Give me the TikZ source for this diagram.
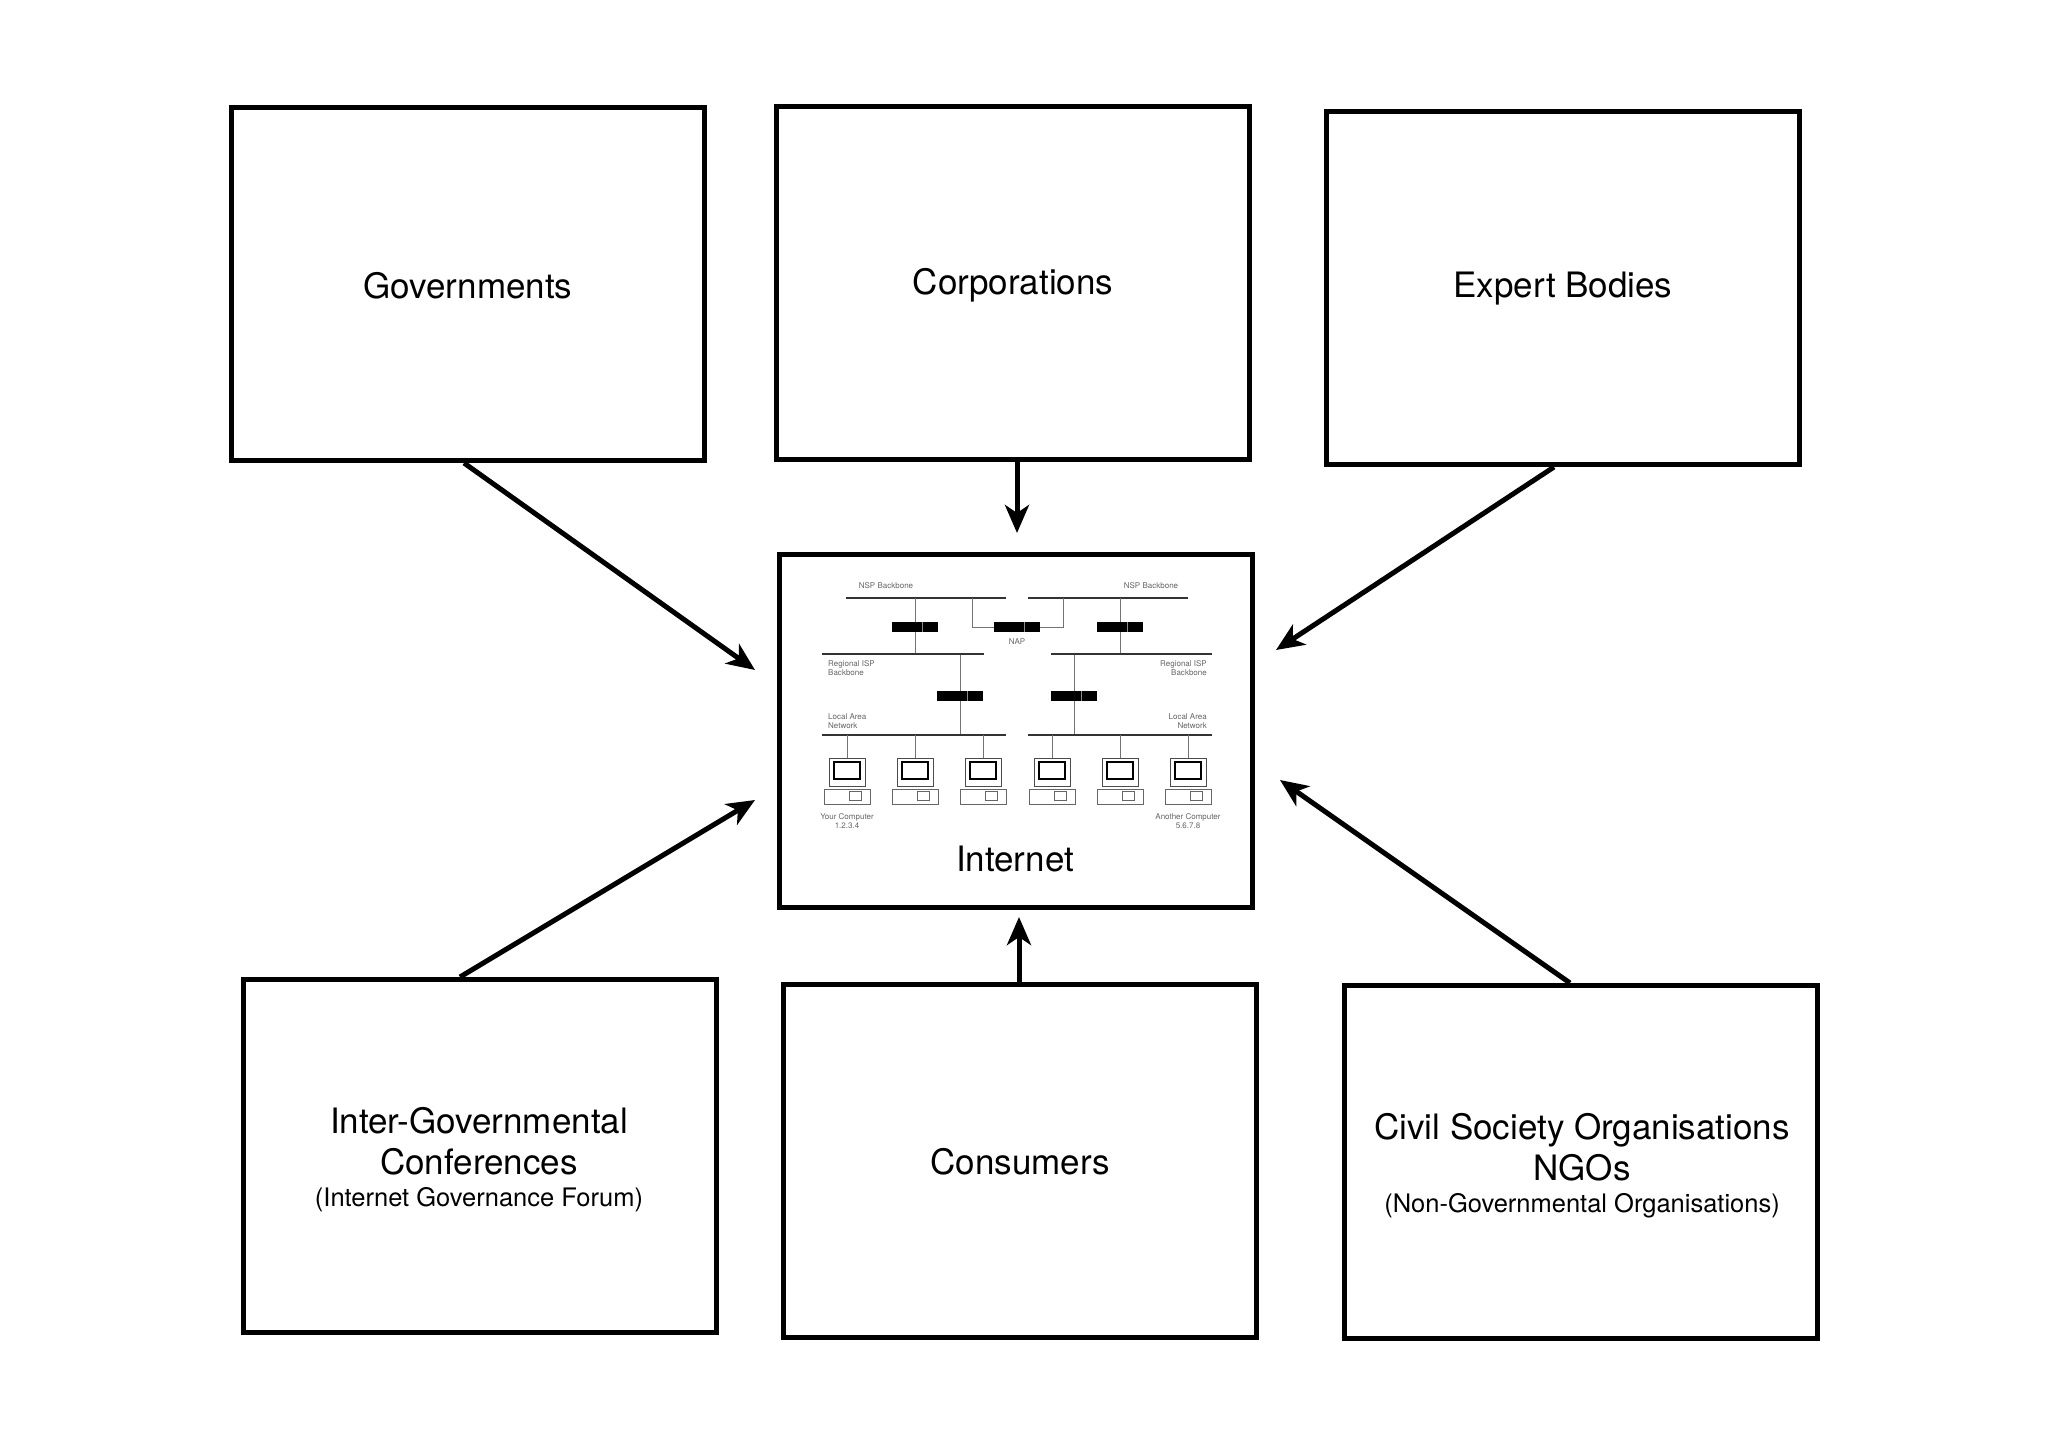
\documentclass[tikz,border=0pt]{standalone}
\usepackage{fontspec}
\setmainfont{TeX Gyre Heros}
\usetikzlibrary{arrows.meta}
\begin{document}
\begin{tikzpicture}[x=1pt,y=-1pt,
  box/.style={draw,line width=5pt,minimum width=473pt,minimum height=353pt,inner sep=0pt,anchor=north west},
  lbl/.style={font=\fontsize{35}{41}\selectfont,align=center},
  conn/.style={line width=5pt,-{Stealth[length=28pt,width=24pt,inset=8pt]}},
  net/.style={line width=1.6pt,black!80},
  thin/.style={line width=1pt,black!55},
  tiny/.style={font=\fontsize{8}{9}\selectfont,text=black!60,inner sep=0pt}]
\useasboundingbox (0,0) rectangle (2048,1448);
\fill[white] (0,0) rectangle (2048,1448);
\node[box] (gov) at (229,105) {};
\node[box] (corp) at (774,104) {};
\node[box] (exp) at (1324,109) {};
\node[box] (inet) at (777,552) {};
\node[box] (igc) at (241,977) {};
\node[box] (cons) at (781,982) {};
\node[box] (civ) at (1342,983) {};
\node[lbl] at (468,286) {Governments};
\node[lbl] at (1013,285) {Corporations};
\node[lbl] at (1563,289) {Expert Bodies};
\node[lbl] (il) at (1015,859) {Internet};
\node[lbl] at (1020,1162) {Consumers};
\node[lbl,anchor=north] at (479,1104) {Inter-Governmental\\Conferences\\[-9pt]{\fontsize{25.5}{29}\selectfont(Internet Governance Forum)}};
\node[lbl,anchor=north] at (1582,1110) {Civil Society Organisations\\NGOs\\[-9pt]{\fontsize{25.5}{29}\selectfont(Non-Governmental Organisations)}};
% connector ends
\coordinate (e1) at (755,670);
\coordinate (e2) at (1017,533);
\coordinate (e3) at (1276,650);
\coordinate (e4) at (755,800);
\coordinate (e5) at (1019,917);
\coordinate (e6) at (1280,780);
\draw[conn] (gov.south -| 464,0) -- (e1);
\draw[conn] (corp.south -| 1017,0) -- (e2);
\draw[conn] (exp.south -| 1554,0) -- (e3);
\draw[conn] (igc.north -| 460,0) -- (e4);
\draw[conn] (cons.north -| 1019,0) -- (e5);
\draw[conn] (civ.north -| 1570,0) -- (e6);
% network
\node[tiny] at (886,586) {NSP Backbone};
\node[tiny] at (1151,586) {NSP Backbone};
\draw[net] (846,598) -- (1006,598);
\draw[net] (1028,598) -- (1188,598);
\draw[thin] (915,598) -- (915,654);
\draw[thin] (1120,598) -- (1120,654);
\draw[thin] (972,598) -- (972,627) -- (1063,627) -- (1063,598);
\draw[thin] (960,654) -- (960,735);
\draw[thin] (1074,654) -- (1074,735);
\node[tiny] at (1017,642) {NAP};
\draw[net] (822,654) -- (984,654);
\draw[net] (1051,654) -- (1212,654);
\node[tiny,align=left,anchor=north west] at (828,660) {Regional ISP\\Backbone};
\node[tiny,align=right,anchor=north east] at (1207,660) {Regional ISP\\Backbone};
\draw[net] (822,735) -- (1006,735);
\draw[net] (1028,735) -- (1212,735);
\node[tiny,align=left,anchor=north west] at (828,713) {Local Area\\Network};
\node[tiny,align=right,anchor=north east] at (1207,713) {Local Area\\Network};
\foreach \cx/\cy in {915/627,1017/627,1120/627,960/696,1074/696}{
  \fill[black] (\cx-23,\cy-5) rectangle (\cx+23,\cy+5);
  \draw[black!45,line width=0.6pt] (\cx+7,\cy-5) -- (\cx+7,\cy+5);
}
\foreach \cx in {847,915,983,1052,1120,1188}{
  \draw[thin] (\cx,735) -- (\cx,758);
  \draw[line width=1pt,black!70] (\cx-18,758) rectangle (\cx+18,786);
  \draw[line width=2pt] (\cx-13,762) rectangle (\cx+13,779);
  \draw[line width=0.8pt,black!60] (\cx-23,789) rectangle (\cx+23,804);
  \draw[line width=0.8pt,black!60] (\cx+2,791) rectangle (\cx+14,800);
}
\node[tiny,align=center] at (847,821) {Your Computer\\1.2.3.4};
\node[tiny,align=center] at (1188,821) {Another Computer\\5.6.7.8};
\end{tikzpicture}
\end{document}
